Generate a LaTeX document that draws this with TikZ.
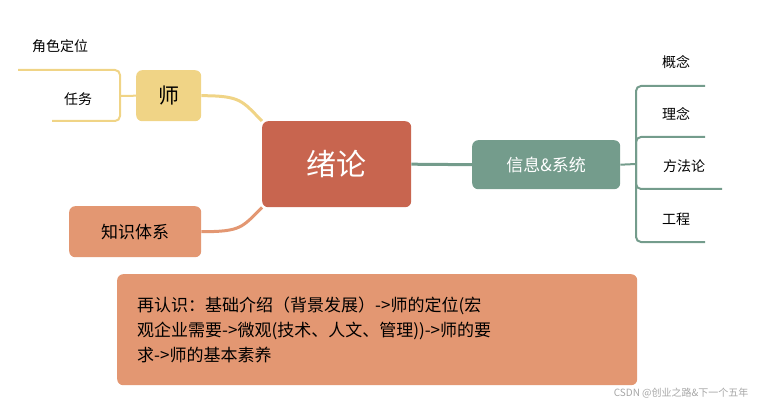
\documentclass[tikz,border=0pt]{standalone}
\usepackage{fontspec}
\setmainfont{Noto Sans CJK SC}
\begin{document}
\begin{tikzpicture}[x=1pt,y=-1pt,
  box/.style={rounded corners=6pt,minimum height=#1,inner sep=0pt,anchor=north west},
  lbl/.style={font=\fontsize{14}{16}\selectfont}]
\definecolor{cmain}{HTML}{C8654F}
\definecolor{cyel}{HTML}{F0D486}
\definecolor{cora}{HTML}{E39772}
\definecolor{cgrn}{HTML}{749C8C}
\useasboundingbox (0,0) rectangle (757,406);
\node[box=86pt,fill=cmain,minimum width=149pt,text=white,font=\fontsize{30}{34}\selectfont] (m) at (262,121) {绪论};
\node[box=51pt,fill=cyel,minimum width=65pt,font=\fontsize{21}{24}\selectfont] (s) at (136,70) {师};
\node[box=51pt,fill=cora,minimum width=132pt,font=\fontsize{17}{20}\selectfont] (k) at (69,206) {知识体系};
\node[box=49pt,fill=cgrn,minimum width=148pt,text=white,font=\fontsize{17}{20}\selectfont] (x) at (472,140) {信息\&系统};
\node[box=111pt,fill=cora,minimum width=514pt,align=left,text width=480pt,font=\fontsize{17}{25}\selectfont,inner xsep=20pt] (b) at (117,274) {再认识：基础介绍（背景发展）->师的定位(宏\\观企业需要->微观(技术、人文、管理))->师的要\\求->师的基本素养};
\draw[cyel,line width=3pt] (s.east) .. controls +(40,0) and +(-20,-20) .. (m.north west);
\draw[cora,line width=3pt] (k.east) .. controls +(40,0) and +(-20,20) .. (m.south west);
\draw[cgrn,line width=3pt] (m.east) -- (x.west);
% left bracket
\coordinate (sb) at (120,96);
\draw[cyel,line width=2pt] (s.west) -- (sb);
\draw[cyel,line width=2pt,rounded corners=5pt] (18,70) -- (120,70) -- (120,121) -- (52,121);
\node[lbl] (t1) at (60,46) {角色定位};
\node[lbl] (t2) at (78,99) {任务};
% right bracket
\coordinate (rb) at (636,164);
\draw[cgrn,line width=2pt] (x.east) -- (rb);
\draw[cgrn,line width=2pt,rounded corners=5pt] (705,86) -- (636,86) -- (636,242) -- (705,242);
\draw[cgrn,line width=2pt,rounded corners=5pt] (705,137) -- (636,137) -- (636,189) -- (722,189);
\node[lbl] (r1) at (676,62) {概念};
\node[lbl] (r2) at (676,114) {理念};
\node[lbl] (r3) at (684,166) {方法论};
\node[lbl] (r4) at (676,219) {工程};
\node[font=\fontsize{10}{12}\selectfont,text=gray!70,anchor=east] (w) at (752,393) {CSDN @创业之路\&下一个五年};
\end{tikzpicture}
\end{document}
